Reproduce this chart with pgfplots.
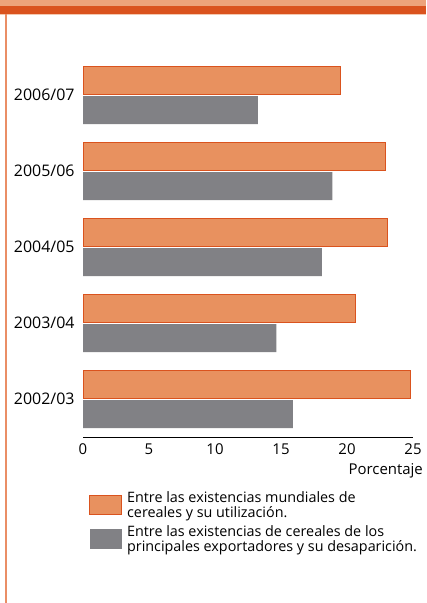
\documentclass[border=0pt]{standalone}
\usepackage{fontspec}
\setmainfont{Open Sans}
\usepackage{pgfplots}
\pgfplotsset{compat=1.18}
\definecolor{barorange}{HTML}{E8915F}
\definecolor{edgeorange}{HTML}{DA531E}
\definecolor{bargray}{HTML}{818185}
\definecolor{lightband}{HTML}{EDA37A}
\definecolor{sideline}{HTML}{EA8E66}
\begin{document}
\begin{tikzpicture}[x=1bp,y=1bp]
\fill[white] (0,0) rectangle (426,-603);
\fill[lightband] (0,0) rectangle (426,-6);
\fill[edgeorange] (0,-6) rectangle (426,-14);
\fill[lightband!60!white] (0,-14) rectangle (426,-15);
\fill[sideline] (5,-14) rectangle (7,-603);
\begin{axis}[
  at={(83bp,-437bp)}, anchor=south west,
  scale only axis, width=330bp, height=380bp,
  xmin=0, xmax=25, ymin=-0.5, ymax=4.5,
  xbar, bar width=28bp,
  axis x line*=bottom, axis y line*=left,
  y axis line style={draw=none},
  x axis line style={-, line width=1pt},
  major tick length=0pt,
  xtick={0,5,10,15,20,25},
  ytick={0,1,2,3,4},
  yticklabels={2002/03,2003/04,2004/05,2005/06,2006/07},
  /pgf/number format/assume math mode=true,
  xticklabel style={font=\fontsize{15}{15}\selectfont, yshift=-3bp},
  yticklabel style={font=\fontsize{16}{16}\selectfont, anchor=east, xshift=-5bp},
  legend style={at={(0.018,-0.137)}, anchor=north west, draw=none, fill=none,
    font=\fontsize{14.4}{15}\selectfont, cells={anchor=west, align=left},
    row sep=3bp, column sep=3bp, inner sep=0pt},
]
\addplot[fill=barorange, draw=edgeorange, line width=0.8pt, bar shift=15bp,
  legend image code/.code={\draw[fill=barorange, draw=edgeorange, line width=1pt] (0bp,-9.5bp) rectangle (32bp,9.5bp);}]
  coordinates {(24.8,0) (20.65,1) (23.05,2) (22.9,3) (19.5,4)};
\addlegendentry{Entre las existencias mundiales de\\cereales y su utilización.}
\addplot[fill=bargray, draw=none, bar shift=-15bp,
  legend image code/.code={\fill[bargray] (0bp,-10bp) rectangle (32bp,10bp);}]
  coordinates {(15.9,0) (14.65,1) (18.1,2) (18.9,3) (13.25,4)};
\addlegendentry{Entre las existencias de cereales de los\\principales exportadores y su desaparición.}
\end{axis}
\node[anchor=east, font=\fontsize{15}{15}\selectfont, inner sep=0pt] at (423bp,-471bp) {Porcentaje};
\end{tikzpicture}
\end{document}
